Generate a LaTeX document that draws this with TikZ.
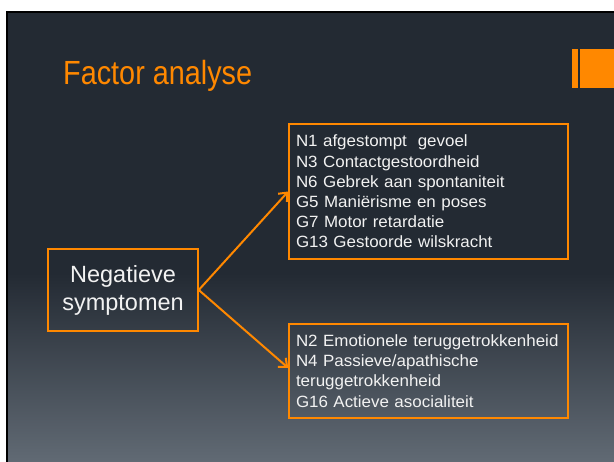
\documentclass[tikz,border=0pt]{standalone}
\usepackage{fontspec}
\setmainfont{Liberation Sans}
\newfontfamily\titlefont[FakeStretch=0.86]{Liberation Sans}
\newfontfamily\bodyfont[FakeStretch=1.04]{Liberation Sans}
\usetikzlibrary{arrows.meta}
\definecolor{bgtop}{HTML}{232A33}
\definecolor{bgbot}{HTML}{616A74}
\definecolor{ora}{HTML}{FF8800}
\definecolor{txt}{HTML}{F2F2F2}
\pgfdeclareverticalshading{slidebg}{100bp}{color(0bp)=(bgbot); color(25bp)=(bgbot); color(46bp)=(bgtop); color(100bp)=(bgtop)}
\tikzset{
  itembox/.style={draw=ora, line width=1.5pt, text=txt, align=left, text width=265pt, inner xsep=7pt,
    minimum width=279pt, font=\bodyfont\fontsize{16.3}{20.2}\selectfont},
  mainbox/.style={draw=ora, line width=1.5pt, text=txt, align=center, minimum width=150pt, minimum height=82pt,
    font=\fontsize{23.5}{28}\selectfont},
  link/.style={draw=ora, line width=2pt, -{Straight Barb[length=7pt,width=12pt,line width=2pt]}}
}
\begin{document}
\begin{tikzpicture}[x=1pt,y=-1pt]
\useasboundingbox (0,0) rectangle (614,462);
\fill[white] (0,0) rectangle (614,462);
\shade[shading=slidebg] (7,12) rectangle (614,462);
\draw[black, line width=2.5pt] (7,462) -- (7,12) -- (614,12);
% title
\node[anchor=base west, inner sep=0pt, text=ora, font=\titlefont\fontsize{33.5}{40}\selectfont] (title) at (63,85) {Factor analyse};
% ornament
\fill[ora] (572,49) rectangle (578,88);
\fill[ora] (580,49) rectangle (614,88);
% boxes
\node[mainbox] (neg) at (123,290) {Negatieve\\symptomen};
\node[itembox, minimum height=135pt] (top) at (428.5,191.5) {N1 afgestompt\ \ gevoel\\N3 Contactgestoordheid\\N6 Gebrek aan spontaniteit\\G5 Mani\"{e}risme en poses\\G7 Motor retardatie\\G13 Gestoorde wilskracht};
\node[itembox, minimum height=94pt] (bot) at (428.5,371) {N2 Emotionele teruggetrokkenheid\\N4 Passieve/apathische\\teruggetrokkenheid\\G16 Actieve asocialiteit};
\draw[link] (neg.east) -- (top.west);
\draw[link] (neg.east) -- ([yshift=3pt]bot.west);
\end{tikzpicture}
\end{document}
